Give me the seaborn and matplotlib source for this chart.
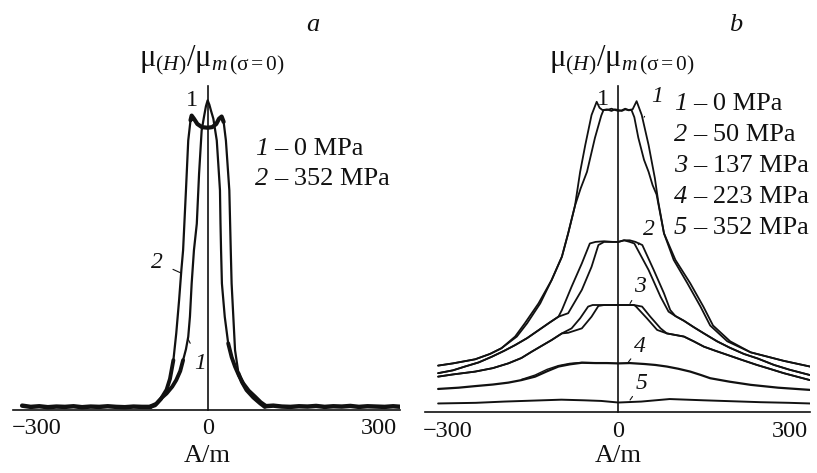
import matplotlib
matplotlib.use("Agg")
import matplotlib.pyplot as plt
import seaborn as sns

# ────────────────────────────────────────────────────────────
# Data, H in A/m, mu relative
# ────────────────────────────────────────────────────────────
# panel a, curve 1: 0 MPa
A1_H = [-100, -90, -80, -72, -62, -55, -48, -43, -38, -34, -31, -28, -24, -19, -15, -10.5, -6.5, -3, 0, 3,
        6, 10, 13, 16, 19, 21.6, 22.5, 23.5, 25, 30, 36, 42, 48, 55, 62.5, 72, 83, 93, 103]
A1_V = [0.012, 0.02, 0.04, 0.053, 0.075, 0.096, 0.125, 0.16, 0.195, 0.235, 0.3, 0.406, 0.513, 0.598, 0.759,
        0.897, 0.94, 0.975, 0.994, 0.98, 0.96, 0.935, 0.9, 0.865, 0.78, 0.705, 0.6, 0.513, 0.406, 0.299,
        0.214, 0.17, 0.139, 0.11, 0.085, 0.062, 0.043, 0.025, 0.012]
# panel a, curve 2: 352 MPa
A2_H = [-100, -92, -82, -72, -66, -60, -55, -50, -46, -43, -38, -34, -30, -28, -24, -18, -10, 0, 8, 15,
        20, 24.5, 28, 32, 38, 40.5, 42, 45, 48, 54, 60, 68, 80, 92, 100]
A2_V = [0.01, 0.015, 0.035, 0.065, 0.1, 0.16, 0.246, 0.353, 0.45, 0.513, 0.705, 0.865, 0.93, 0.945, 0.935,
        0.918, 0.908, 0.906, 0.908, 0.918, 0.935, 0.942, 0.925, 0.865, 0.705, 0.513, 0.406, 0.299, 0.192,
        0.118, 0.09, 0.064, 0.04, 0.021, 0.01]
# panel a, flat noisy background outside the peak
A_BASE_L_H = [-325, -310, -295, -280, -265, -250, -235, -220, -205, -190, -175, -160, -145, -130, -115, -100]
A_BASE_L_V = [0.014, 0.010, 0.012, 0.009, 0.011, 0.010, 0.012, 0.009, 0.011, 0.010, 0.012, 0.010, 0.009,
              0.011, 0.010, 0.010]
A_BASE_R_H = [100, 115, 130, 145, 160, 175, 190, 205, 220, 235, 250, 265, 280, 295, 310, 325, 340]
A_BASE_R_V = [0.012, 0.014, 0.011, 0.010, 0.012, 0.011, 0.013, 0.010, 0.012, 0.011, 0.013, 0.010, 0.012,
              0.011, 0.010, 0.012, 0.010]

# panel b, curve 1: 0 MPa (two branches)
B1A_H = [-316, -290, -251, -225, -205, -181, -164, -140, -117, -99, -88, -76, -67, -58, -47, -38, -33, -28,
         -20, -12, -6, 0, 6, 12, 18, 25, 32, 41, 53, 64, 70, 80, 97, 121, 144, 161, 191, 232, 290, 336]
B1A_V = [0.148, 0.155, 0.168, 0.185, 0.203, 0.24, 0.282, 0.345, 0.419, 0.493, 0.567, 0.655, 0.762, 0.847,
         0.942, 0.984, 0.965, 0.958, 0.958, 0.962, 0.958, 0.955, 0.957, 0.962, 0.958, 0.96, 0.986, 0.942,
         0.847, 0.742, 0.667, 0.567, 0.483, 0.409, 0.335, 0.275, 0.225, 0.19, 0.163, 0.145]
B1B_H = [-316, -290, -251, -225, -205, -178, -160, -137, -117, -99, -88, -76, -66, -55, -41, -30, -26, -20,
         -12, -6, 0, 6, 12, 18, 23, 28, 35, 45, 53, 60, 67, 80, 100, 126, 149, 166, 196, 232, 290, 336]
B1B_V = [0.148, 0.155, 0.168, 0.185, 0.203, 0.24, 0.282, 0.345, 0.419, 0.493, 0.567, 0.655, 0.71, 0.762,
         0.87, 0.94, 0.958, 0.96, 0.955, 0.96, 0.958, 0.955, 0.96, 0.957, 0.958, 0.935, 0.87, 0.8, 0.762,
         0.72, 0.69, 0.567, 0.483, 0.409, 0.335, 0.275, 0.225, 0.19, 0.163, 0.145]

# panel b, curve 2: 50 MPa (shared tails, two branches in the middle)
B2_LEFT_H = [-316, -290, -269, -245, -222, -200, -181, -160, -140, -120, -105]
B2_LEFT_V = [0.124, 0.133, 0.145, 0.158, 0.176, 0.195, 0.213, 0.235, 0.26, 0.285, 0.303]
B2A_MID_H = [-99, -82, -64, -50, -40, -25, -10, 0, 10, 20, 28, 53, 74, 88]
B2A_MID_V = [0.324, 0.398, 0.472, 0.535, 0.54, 0.542, 0.54, 0.54, 0.545, 0.54, 0.535, 0.451, 0.366, 0.319]
B2B_MID_H = [-88, -64, -47, -35, -25, -10, 0, 10, 20, 30, 42, 62, 80, 91]
B2B_MID_V = [0.314, 0.388, 0.461, 0.53, 0.54, 0.54, 0.54, 0.545, 0.545, 0.54, 0.53, 0.451, 0.377, 0.324]
B2_RIGHT_H = [100, 115, 132, 150, 173, 195, 220, 245, 273, 300, 336]
B2_RIGHT_V = [0.305, 0.29, 0.27, 0.25, 0.225, 0.205, 0.185, 0.17, 0.15, 0.135, 0.118]

# panel b, curve 3: 137 MPa
B3_LEFT_H = [-316, -290, -251, -220, -193, -170, -152, -135, -117, -99]
B3_LEFT_V = [0.113, 0.12, 0.129, 0.14, 0.155, 0.172, 0.192, 0.21, 0.229, 0.25]
B3A_MID_H = [-82, -67, -53, -45, -30, 0, 27, 30, 50, 68]
B3A_MID_V = [0.266, 0.298, 0.335, 0.34, 0.34, 0.34, 0.34, 0.337, 0.298, 0.261]
B3B_MID_H = [-88, -64, -47, -35, -25, 0, 27, 41.6, 56, 74]
B3B_MID_V = [0.252, 0.266, 0.303, 0.337, 0.34, 0.34, 0.34, 0.335, 0.303, 0.266]
B3_RIGHT_H = [85, 100, 115, 132, 150, 170, 191, 215, 243, 265, 290, 315, 336]
B3_RIGHT_V = [0.25, 0.245, 0.24, 0.225, 0.208, 0.195, 0.182, 0.167, 0.15, 0.138, 0.124, 0.112, 0.102]

# panel b, curve 4: 223 MPa
B4A_H = [-316, -280, -251, -220, -193, -170, -146, -125, -105, -85, -64, -40, -20, 0, 20, 46, 65, 85, 105,
         126, 145, 161, 195, 232, 280, 336]
B4A_V = [0.074, 0.078, 0.083, 0.088, 0.094, 0.102, 0.113, 0.13, 0.145, 0.152, 0.157, 0.156, 0.156, 0.155,
         0.156, 0.153, 0.15, 0.145, 0.138, 0.129, 0.118, 0.108, 0.097, 0.087, 0.078, 0.071]
B4B_H = [-170, -146, -125, -105, -85, -64, -40]
B4B_V = [0.104, 0.118, 0.136, 0.148, 0.155, 0.158, 0.157]

# panel b, curve 5: 352 MPa
B5_H = [-316, -250, -200, -150, -100, -60, -30, 0, 40, 90, 150, 200, 250, 300, 336]
B5_V = [0.028, 0.03, 0.034, 0.037, 0.04, 0.038, 0.036, 0.031, 0.034, 0.042, 0.038, 0.035, 0.032, 0.03, 0.028]

LEGEND_A = ["1", "2"]
LEGEND_A_TXT = ["0 MPa", "352 MPa"]
LEGEND_B = ["1", "2", "3", "4", "5"]
LEGEND_B_TXT = ["0 MPa", "50 MPa", "137 MPa", "223 MPa", "352 MPa"]
X_TICKS = [-300, 0, 300]

# ────────────────────────────────────────────────────────────
# Style
# ────────────────────────────────────────────────────────────
sns.set_theme(style="white")
plt.rcParams["font.family"] = ["Liberation Serif", "DejaVu Serif"]
plt.rcParams["mathtext.fontset"] = "custom"
plt.rcParams["mathtext.rm"] = "Liberation Serif"
plt.rcParams["mathtext.it"] = "Liberation Serif:italic"
plt.rcParams["axes.unicode_minus"] = True

W, H = 817, 473
FS = 17      # tick labels
FS_LEG = 19  # legends and axis text
INK = "#111111"

fig = plt.figure(figsize=(W / 100, H / 100), dpi=100)
fig.patch.set_facecolor("white")


def frac(x, y):
    return x / W, 1 - y / H


def line(ax, xs, ys, lw=1.3):
    sns.lineplot(x=xs, y=ys, sort=False, estimator=None, color=INK, linewidth=lw, ax=ax, legend=False)


def style_axes(ax, xlim, ylim):
    ax.set_xlim(*xlim)
    ax.set_ylim(*ylim)
    for s in ("top", "right"):
        ax.spines[s].set_visible(False)
    ax.spines["left"].set_position(("data", 0))
    for s in ("left", "bottom"):
        ax.spines[s].set_color(INK)
        ax.spines[s].set_linewidth(1.2)
    ax.set_xticks(X_TICKS)
    ax.set_xticklabels(["\u2212300", "0", "300"])
    ax.set_yticks([1])
    ax.set_yticklabels(["1"])
    ax.tick_params(axis="x", direction="in", length=5, width=1, labelsize=FS + 0.5, pad=6, colors=INK)
    ax.tick_params(axis="y", direction="in", length=7, width=1.2, labelsize=FS + 0.5, pad=7, colors=INK)
    ax.set_xlabel("")
    ax.set_ylabel("")
    ax.patch.set_alpha(0)


def curve_label(ax, text, xy, xytext):
    ax.annotate(text, xy=xy, xytext=xytext, fontsize=FS, style="italic", color=INK,
                ha="center", va="center",
                arrowprops=dict(arrowstyle="-", color=INK, lw=0.8, shrinkA=5, shrinkB=0))


def legend_rows(x, y0, dy, nums, texts):
    for i, (num, txt) in enumerate(zip(nums, texts)):
        fig.text(*frac(x, y0 + dy * i), num, fontsize=FS_LEG, style="italic",
                 ha="left", va="center", color=INK)
        fig.text(*frac(x + 19, y0 + dy * i), f"– {txt}", fontsize=FS_LEG,
                 ha="left", va="center", color=INK)


# ────────────────────────────────────────────────────────────
# Panel a
# ────────────────────────────────────────────────────────────
axa = fig.add_axes([13 / W, 1 - 410 / H, (400 - 13) / W, (410 - 86) / H])
line(axa, A_BASE_L_H, A_BASE_L_V, lw=3.2)
line(axa, A_BASE_R_H, A_BASE_R_V, lw=3.2)
line(axa, A2_H, A2_V, lw=1.6)
line(axa, A2_H[12:23], A2_V[12:23], lw=3.0)
line(axa, A2_H[:6], A2_V[:6], lw=2.8)
line(axa, A2_H[-6:], A2_V[-6:], lw=2.8)
line(axa, A1_H, A1_V, lw=1.6)
line(axa, A1_H[:8], A1_V[:8], lw=2.8)
line(axa, A1_H[-9:], A1_V[-9:], lw=2.8)
style_axes(axa, (-341, 337), (0, 1.04))
curve_label(axa, "2", xy=(-47, 0.44), xytext=(-88, 0.474))
curve_label(axa, "1", xy=(-33.5, 0.225), xytext=(-13, 0.15))

# ────────────────────────────────────────────────────────────
# Panel b
# ────────────────────────────────────────────────────────────
axb = fig.add_axes([425 / W, 1 - 412.3 / H, (810 - 425) / W, (412.3 - 86) / H])
line(axb, B1A_H, B1A_V, lw=1.3)
line(axb, B1B_H, B1B_V, lw=1.3)
line(axb, B2_LEFT_H + B2A_MID_H + B2_RIGHT_H, B2_LEFT_V + B2A_MID_V + B2_RIGHT_V, lw=1.3)
line(axb, B2_LEFT_H + B2B_MID_H + B2_RIGHT_H, B2_LEFT_V + B2B_MID_V + B2_RIGHT_V, lw=1.3)
line(axb, B3_LEFT_H + B3A_MID_H + B3_RIGHT_H, B3_LEFT_V + B3A_MID_V + B3_RIGHT_V, lw=1.3)
line(axb, B3_LEFT_H + B3B_MID_H + B3_RIGHT_H, B3_LEFT_V + B3B_MID_V + B3_RIGHT_V, lw=1.3)
line(axb, B4A_H, B4A_V, lw=1.6)
line(axb, B4B_H, B4B_V, lw=1.0)
line(axb, B5_H, B5_V, lw=1.4)
style_axes(axb, (-339, 336), (0, 1.034))
curve_label(axb, "1", xy=(45, 0.935), xytext=(68, 1.0))
curve_label(axb, "2", xy=(35, 0.531), xytext=(53, 0.578))
curve_label(axb, "3", xy=(20.5, 0.345), xytext=(38, 0.398))
curve_label(axb, "4", xy=(17.5, 0.159), xytext=(38, 0.208))
curve_label(axb, "5", xy=(20.5, 0.039), xytext=(41, 0.092))

# ────────────────────────────────────────────────────────────
# Texts: titles, axis labels, legends
# ────────────────────────────────────────────────────────────
ylab = r"$\mathrm{\mu}_{(H)}/\mathrm{\mu}_{m\,(\mathrm{\sigma}=0)}$"
for cx, tag, tx in [(207.7, "a", 313), (618.3, "b", 736)]:
    fig.text(*frac(tx, 25), tag, fontsize=FS + 2, style="italic", ha="center", va="center", color=INK)
    fig.text(*frac(cx + 4, 60), ylab, fontsize=22, ha="center", va="center", color=INK)
    fig.text(*frac(cx, 456), "A/m", fontsize=FS_LEG, ha="center", va="center", color=INK)

legend_rows(255, 149, 30, LEGEND_A, LEGEND_A_TXT)
legend_rows(674, 104, 31, LEGEND_B, LEGEND_B_TXT)

fig.savefig("out.png", dpi=100, facecolor="white")
plt.close(fig)
